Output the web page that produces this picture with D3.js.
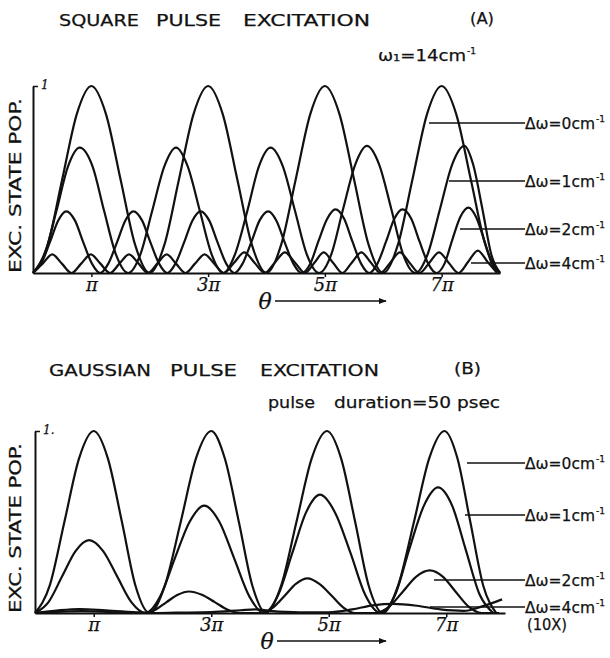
<!DOCTYPE html>
<html>
<head>
<meta charset="utf-8">
<script src="https://cdn.jsdelivr.net/npm/d3@7/dist/d3.min.js"></script>
<style>
  body { margin: 0; background: #fff; }
  text { fill: #111; stroke: #111; stroke-width: 0.25; }
</style>
</head>
<body>
<svg id="chart" width="610" height="658"></svg>
<script>
// theta is given in units of pi, population from 0 to 1
const tickTheta = [1, 3, 5, 7];
const tickLabels = ['π', '3π', '5π', '7π'];
const detuningLabels = ['Δω=0cm', 'Δω=1cm', 'Δω=2cm', 'Δω=4cm'];

// (A) square pulse
const sq0Theta = [0,0.25,0.5,0.75,1,1.25,1.5,1.75,2,2.25,2.5,2.75,3,3.25,3.5,3.75,4,4.25,4.5,4.75,5,5.25,5.5,5.75,6,6.25,6.5,6.75,7,7.25,7.5,7.75,8];
const sq0Pop = [0,0.15,0.5,0.85,1,0.85,0.5,0.15,0,0.15,0.5,0.85,1,0.85,0.5,0.15,0,0.15,0.5,0.85,1,0.85,0.5,0.15,0,0.15,0.5,0.85,1,0.85,0.5,0.15,0];

const sq1Theta = [0,0.2,0.4,0.6,0.8,1.02,1.22,1.42,1.63,1.84,2.04,2.25,2.45,2.65,2.86,3.06,3.26,3.46,3.67,3.87,4.07,4.28,4.49,4.69,4.9,5.11,5.31,5.52,5.72,5.93,6.14,6.34,6.55,6.76,6.97,7.18,7.39,7.54,7.7,7.85,8];
const sq1Pop = [0,0.1,0.33,0.57,0.67,0.57,0.33,0.1,0,0.1,0.33,0.57,0.67,0.57,0.33,0.1,0,0.1,0.33,0.57,0.67,0.57,0.33,0.1,0,0.1,0.34,0.58,0.68,0.58,0.34,0.1,0,0.1,0.34,0.58,0.68,0.58,0.34,0.1,0];

const sq2Theta = [0,0.14,0.29,0.43,0.57,0.72,0.86,1.01,1.15,1.29,1.44,1.58,1.72,1.87,2.01,2.16,2.3,2.44,2.59,2.73,2.87,3.02,3.16,3.31,3.45,3.59,3.74,3.88,4.03,4.17,4.31,4.46,4.6,4.75,4.89,5.04,5.18,5.33,5.47,5.62,5.76,5.9,6.05,6.19,6.33,6.48,6.62,6.77,6.91,7.05,7.18,7.32,7.46,7.59,7.73,7.86,8];
const sq2Pop = [0,0.05,0.165,0.28,0.33,0.28,0.165,0.05,0,0.05,0.165,0.28,0.33,0.28,0.165,0.05,0,0.05,0.165,0.28,0.33,0.28,0.165,0.05,0,0.05,0.165,0.28,0.33,0.28,0.165,0.05,0,0.05,0.17,0.29,0.34,0.29,0.17,0.05,0,0.05,0.17,0.29,0.34,0.29,0.17,0.05,0,0.05,0.175,0.3,0.35,0.3,0.175,0.05,0];

const sq4Theta = [0,0.165,0.33,0.495,0.66,0.825,0.99,1.155,1.32,1.48,1.645,1.81,1.97,2.13,2.29,2.45,2.61,2.775,2.94,3.105,3.27,3.445,3.62,3.795,3.97,4.14,4.315,4.49,4.66,4.82,4.98,5.14,5.3,5.46,5.625,5.79,5.95,6.12,6.285,6.45,6.62,6.79,6.955,7.12,7.29,7.455,7.62,7.785,7.95];
const sq4Pop = [0,0.05,0.1,0.05,0,0.05,0.1,0.05,0,0.05,0.1,0.05,0,0.05,0.1,0.05,0,0.05,0.1,0.05,0,0.055,0.11,0.055,0,0.055,0.11,0.055,0,0.055,0.11,0.055,0,0.055,0.11,0.055,0,0.055,0.11,0.055,0,0.055,0.11,0.055,0,0.06,0.12,0.06,0];

// (B) gaussian pulse
const ga0Theta = [0,0.25,0.5,0.75,1,1.24,1.48,1.71,1.95,2.21,2.48,2.74,3,3.23,3.47,3.7,3.93,4.19,4.45,4.71,4.97,5.21,5.45,5.68,5.92,6.18,6.45,6.71,6.97,7.19,7.41,7.63,7.85];
const ga0Pop = [0,0.15,0.5,0.85,1,0.85,0.5,0.15,0,0.15,0.5,0.85,1,0.85,0.5,0.15,0,0.15,0.5,0.85,1,0.85,0.5,0.15,0,0.15,0.5,0.85,1,0.85,0.5,0.15,0];

const ga1Theta = [0,0.23,0.46,0.69,0.92,1.16,1.4,1.64,1.88,2.13,2.38,2.63,2.88,3.14,3.39,3.65,3.9,4.14,4.38,4.61,4.85,5.11,5.37,5.62,5.88,6.13,6.37,6.62,6.86,7.1,7.33,7.57,7.8];
const ga1Pop = [0,0.06,0.2,0.34,0.4,0.34,0.2,0.06,0,0.09,0.3,0.5,0.59,0.5,0.3,0.09,0,0.1,0.33,0.55,0.65,0.55,0.33,0.1,0,0.1,0.35,0.59,0.69,0.59,0.35,0.1,0];

const ga2Theta = [0,0.8,1.8,1.86,2.05,2.24,2.43,2.62,2.84,3.06,3.28,3.5,3.85,4.05,4.25,4.44,4.64,4.84,5.05,5.25,5.45,5.8,6.03,6.26,6.49,6.72,6.94,7.16,7.38,7.6,7.9];
const ga2Pop = [0,0.01,0,0,0.018,0.06,0.1,0.118,0.1,0.06,0.018,0,0,0.03,0.095,0.16,0.19,0.16,0.095,0.03,0,0,0.035,0.117,0.2,0.234,0.2,0.117,0.035,0,0];

const ga4Theta = [0,0.4,0.76,1.2,1.8,2,2.4,3,3.5,3.75,4,4.5,5,5.4,5.75,6.1,6.5,6.9,7.3,7.6,7.95];
const ga4Pop = [0,0.015,0.022,0.015,0.003,0,0.002,0.005,0.015,0.02,0.012,0.004,0.004,0.02,0.042,0.05,0.04,0.02,0.012,0.035,0.075];

const svg = d3.select('#chart');

const panels = [
  {
    words: [['SQUARE', 59, 139], ['PULSE', 156, 221], ['EXCITATION', 243, 370]],
    titleY: 26, tag: '(A)', tagX: 470, tagW: 24,
    note: 'ω₁=14cm', noteX: 378, noteW: 88, noteY: 61,
    x0: 33, x1: 500, yTop: 86, yBase: 273, topLabel: '1',
    series: [[sq0Theta, sq0Pop], [sq1Theta, sq1Pop], [sq2Theta, sq2Pop], [sq4Theta, sq4Pop]],
    leaders: [[429, 123], [449, 181], [460, 229], [471, 263]],
    extra: null
  },
  {
    words: [['GAUSSIAN', 49, 151], ['PULSE', 170, 237], ['EXCITATION', 260, 379]],
    titleY: 376, tag: '(B)', tagX: 454, tagW: 27,
    note: null,
    x0: 35, x1: 505, yTop: 431, yBase: 613, topLabel: '1.',
    series: [[ga0Theta, ga0Pop], [ga1Theta, ga1Pop], [ga2Theta, ga2Pop], [ga4Theta, ga4Pop]],
    leaders: [[467, 463], [465, 515], [434, 580], [430, 607]],
    extra: '(10X)'
  }
];

svg.append('defs').append('marker')
  .attr('id', 'arrow')
  .attr('viewBox', '0 0 10 10')
  .attr('refX', 9).attr('refY', 5)
  .attr('markerWidth', 7).attr('markerHeight', 6)
  .attr('orient', 'auto')
  .append('path')
  .attr('d', 'M0,1 L10,5 L0,9 Z')
  .attr('fill', '#111');

// text squeezed to a given width, with a small "-1" exponent after it
function unitText(g, x, y, str, w) {
  g.append('text')
    .attr('x', x).attr('y', y)
    .attr('textLength', w).attr('lengthAdjust', 'spacingAndGlyphs')
    .style('font', '16px "DejaVu Sans"')
    .text(str);
  g.append('text')
    .attr('x', x + w + 1).attr('y', y - 7)
    .style('font', '9px "DejaVu Sans"')
    .text('-1');
}

panels.forEach((p) => {
  const g = svg.append('g');

  const x = d3.scaleLinear().domain([0, 8]).range([p.x0, p.x1]);
  const y = d3.scaleLinear().domain([0, 1]).range([p.yBase, p.yTop]);

  // titles
  p.words.forEach(([w, a, b]) => {
    g.append('text')
      .attr('x', a).attr('y', p.titleY)
      .attr('textLength', b - a).attr('lengthAdjust', 'spacingAndGlyphs')
      .style('font', '16px "DejaVu Sans"')
      .text(w);
  });
  g.append('text')
    .attr('x', p.tagX).attr('y', p.titleY - 2)
    .attr('textLength', p.tagW).attr('lengthAdjust', 'spacingAndGlyphs')
    .style('font', '16px "DejaVu Sans"')
    .text(p.tag);

  if (p.note) {
    unitText(g, p.noteX, p.noteY, p.note, p.noteW);
  } else {
    g.append('text')
      .attr('x', 268).attr('y', 408)
      .attr('textLength', 47).attr('lengthAdjust', 'spacingAndGlyphs')
      .style('font', '16px "DejaVu Sans"')
      .text('pulse');
    g.append('text')
      .attr('x', 334).attr('y', 408)
      .attr('textLength', 166).attr('lengthAdjust', 'spacingAndGlyphs')
      .style('font', '16px "DejaVu Sans"')
      .text('duration=50 psec');
  }

  // y axis label
  g.append('text')
    .attr('transform', `translate(21,${p.yBase}) rotate(-90)`)
    .attr('textLength', p.yBase - p.yTop - 12).attr('lengthAdjust', 'spacingAndGlyphs')
    .style('font', '15px "DejaVu Sans"')
    .text('EXC. STATE POP.');

  // axes
  const xAxis = d3.axisBottom(x)
    .tickValues(tickTheta)
    .tickFormat((d, i) => tickLabels[i])
    .tickSize(4).tickSizeOuter(0);
  const xg = g.append('g').attr('transform', `translate(0,${p.yBase})`).call(xAxis);
  xg.select('.domain').attr('stroke', '#111').attr('stroke-width', 2);
  xg.selectAll('.tick line').attr('stroke', '#111').attr('stroke-width', 1.5);
  xg.selectAll('.tick text')
    .attr('dy', '0.6em')
    .style('font', 'italic 18px "DejaVu Serif"')
    .attr('fill', '#111');

  const yAxis = d3.axisRight(y)
    .tickValues([1])
    .tickFormat(() => p.topLabel)
    .tickSize(5).tickSizeOuter(0);
  const yg = g.append('g').attr('transform', `translate(${p.x0},0)`).call(yAxis);
  yg.select('.domain').attr('stroke', '#111').attr('stroke-width', 2);
  yg.selectAll('.tick line').attr('stroke', '#111').attr('stroke-width', 1.5);
  yg.selectAll('.tick text')
    .attr('dy', '0.2em')
    .style('font', 'italic 12px "DejaVu Serif"')
    .attr('fill', '#111');

  // theta arrow
  const ay = p.yBase + 28;
  g.append('text')
    .attr('x', p.x0 + 232).attr('y', ay + 8)
    .attr('text-anchor', 'middle')
    .style('font', 'italic 22px "DejaVu Serif"')
    .text('θ');
  g.append('line')
    .attr('x1', p.x0 + 242).attr('x2', 386)
    .attr('y1', ay).attr('y2', ay)
    .attr('stroke', '#111').attr('stroke-width', 1.3)
    .attr('marker-end', 'url(#arrow)');

  // curves
  const line = d3.line()
    .x((d) => x(d[0]))
    .y((d) => y(d[1]))
    .curve(d3.curveMonotoneX);

  p.series.forEach(([th, pop]) => {
    g.append('path')
      .datum(d3.zip(th, pop))
      .attr('d', line)
      .attr('fill', 'none')
      .attr('stroke', '#111')
      .attr('stroke-width', 2.2);
  });

  // labels with leader lines
  p.leaders.forEach(([lx, ly], i) => {
    g.append('line')
      .attr('x1', lx).attr('x2', 525)
      .attr('y1', ly).attr('y2', ly)
      .attr('stroke', '#111').attr('stroke-width', 1.5);
    unitText(g, 525, ly + 6, detuningLabels[i], 70);
  });

  if (p.extra) {
    g.append('text')
      .attr('x', 527).attr('y', p.yBase + 17)
      .attr('textLength', 40).attr('lengthAdjust', 'spacingAndGlyphs')
      .style('font', '15px "DejaVu Sans"')
      .text(p.extra);
  }
});
</script>
</body>
</html>
